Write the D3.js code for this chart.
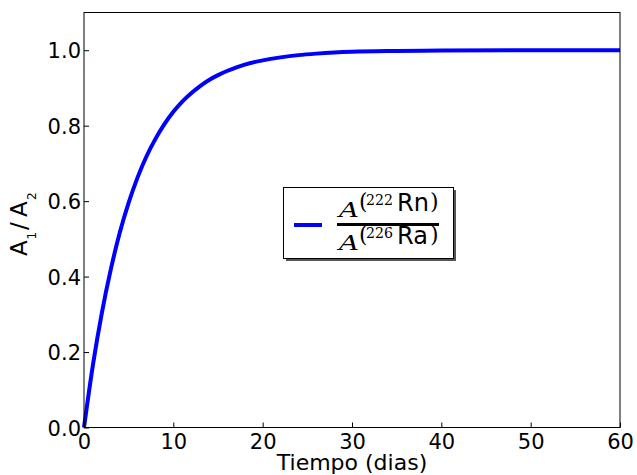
<!DOCTYPE html>
<html>
<head>
<meta charset="utf-8">
<script src="https://cdn.jsdelivr.net/npm/d3@7"></script>
<style>
  body { margin: 0; background: #fff; }
  svg { display: block; }
  text { font-family: "DejaVu Sans", sans-serif; }
</style>
</head>
<body>
<svg id="chart" width="637" height="475"></svg>
<script>
// values
const days = [0, 1, 2, 3, 4, 5, 6, 7, 8, 9, 10, 11, 12, 13, 14, 15, 16, 17, 18, 20, 22, 24, 26, 28, 30, 35, 40, 50, 60];
const ratio = [0, 0.166, 0.304, 0.419, 0.516, 0.596, 0.663, 0.719, 0.765, 0.804, 0.837, 0.864, 0.886, 0.905, 0.921, 0.934, 0.945, 0.954, 0.962, 0.973, 0.981, 0.987, 0.991, 0.994, 0.996, 0.998, 0.999, 1.0, 1.0];
const xTicks = [0, 10, 20, 30, 40, 50, 60];
const yTicks = [0, 0.2, 0.4, 0.6, 0.8, 1.0];

const svg = d3.select("#chart");
const margin = { top: 12.5, right: 17, bottom: 47.5, left: 84 };
const width = 637, height = 475;

const x = d3.scaleLinear().domain([0, 60]).range([margin.left, width - margin.right]);
const y = d3.scaleLinear().domain([0, 1.1]).range([height - margin.bottom, margin.top]);

const data = days.map((d, i) => ({ t: d, v: ratio[i] }));

// curve
svg.append("path")
  .datum(data)
  .attr("fill", "none")
  .attr("stroke", "#0000ff")
  .attr("stroke-width", 4)
  .attr("d", d3.line().x(d => x(d.t)).y(d => y(d.v)).curve(d3.curveMonotoneX));

// axes, ticks pointing in
const xAxis = svg.append("g")
  .attr("transform", `translate(0,${y(0)})`)
  .call(d3.axisBottom(x).tickValues(xTicks).tickSize(-5).tickPadding(7).tickFormat(d3.format("d")));
xAxis.select(".domain").remove();

const yAxis = svg.append("g")
  .attr("transform", `translate(${x(0)},0)`)
  .call(d3.axisLeft(y).tickValues(yTicks).tickSize(-5).tickPadding(3).tickFormat(d3.format(".1f")));
yAxis.select(".domain").remove();

svg.selectAll(".tick line").attr("stroke", "#000");
svg.selectAll(".tick text")
  .attr("fill", "#000")
  .style("font-size", "21px")
  .style("font-family", "DejaVu Sans");
yAxis.selectAll(".tick text").attr("dy", "0.36em");

// frame
svg.append("rect")
  .attr("x", x(0)).attr("y", y(1.1))
  .attr("width", x(60) - x(0)).attr("height", y(0) - y(1.1))
  .attr("fill", "none").attr("stroke", "#000").attr("stroke-width", 1);

// x label
svg.append("text")
  .attr("x", (x(0) + x(60)) / 2)
  .attr("y", 470)
  .attr("text-anchor", "middle")
  .style("font-size", "22px")
  .text("Tiempo (dias)");

// y label, pieces placed one by one (rotated)
const ylParts = [
  { s: "A", gy: 256, bx: 27, f: 23 },
  { s: "1", gy: 239.5, bx: 36, f: 12 },
  { s: "/", gy: 230, bx: 27, f: 23 },
  { s: "A", gy: 217, bx: 27, f: 23 },
  { s: "2", gy: 200, bx: 36, f: 12 }
];
ylParts.forEach(p => {
  svg.append("text")
    .attr("transform", `translate(${p.bx},${p.gy}) rotate(-90)`)
    .style("font-size", p.f + "px")
    .text(p.s);
});

// legend
const lg = svg.append("g");
lg.append("rect").attr("x", 286).attr("y", 190).attr("width", 170).attr("height", 71).attr("fill", "#555");
lg.append("rect").attr("x", 283.5).attr("y", 187.5).attr("width", 170).attr("height", 71)
  .attr("fill", "#fff").attr("stroke", "#000").attr("stroke-width", 1);
lg.append("line").attr("x1", 294).attr("x2", 322).attr("y1", 225).attr("y2", 225)
  .attr("stroke", "#0000ff").attr("stroke-width", 4);
lg.append("line").attr("x1", 337).attr("x2", 439).attr("y1", 224.5).attr("y2", 224.5)
  .attr("stroke", "#000").attr("stroke-width", 3);

function fracRow(b, iso, el) {
  const g = lg.append("g");
  g.append("text").attr("x", 339).attr("y", b)
    .attr("textLength", 20).attr("lengthAdjust", "spacingAndGlyphs")
    .style("font-family", "DejaVu Serif").style("font-style", "italic").style("font-size", "20px").text("A");
  g.append("text").attr("x", 359).attr("y", b - 8)
    .style("font-family", "DejaVu Serif").style("font-size", "22px").text("(");
  g.append("text").attr("x", 366).attr("y", b - 12)
    .attr("textLength", 27).attr("lengthAdjust", "spacingAndGlyphs")
    .style("font-family", "DejaVu Serif").style("font-size", "15px").text(iso);
  g.append("text").attr("x", 397).attr("y", b - 6)
    .style("font-size", "24px").text(el);
  g.append("text").attr("x", 430).attr("y", b - 8)
    .style("font-family", "DejaVu Serif").style("font-size", "22px").text(")");
}
fracRow(217, "222", "Rn");
fracRow(250, "226", "Ra");
</script>
</body>
</html>
